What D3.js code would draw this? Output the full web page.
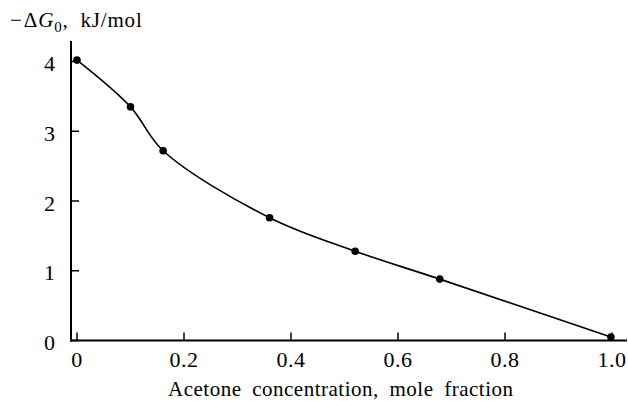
<!DOCTYPE html>
<html>
<head>
<meta charset="utf-8">
<script src="https://cdn.jsdelivr.net/npm/d3@7"></script>
<style>
  html, body { margin: 0; padding: 0; background: #fff; }
  svg { display: block; }
  text { font-family: 'Liberation Serif', 'Times New Roman', serif; fill: #000; }
</style>
</head>
<body>
<svg id="chart" width="628" height="401"></svg>
<script>
/* data */
const conc   = [0, 0.10, 0.161, 0.36, 0.52, 0.678, 0.998];
const deltaG = [4.02, 3.35, 2.72, 1.76, 1.28, 0.88, 0.05];
const xTicks = [0, 0.2, 0.4, 0.6, 0.8, 1.0];
const yTicks = [0, 1, 2, 3, 4];

const svg = d3.select('#chart');

/* ── Scales ── */
const x = d3.scaleLinear().domain([0, 1]).range([77, 612]);
const y = d3.scaleLinear().domain([0, 4]).range([340.5, 61.5]);

const axisLeft = 71, axisBottom = 340.5;

/* ── Axis lines ── */
svg.append('line')
  .attr('x1', axisLeft).attr('x2', axisLeft)
  .attr('y1', 41).attr('y2', axisBottom + 1)
  .attr('stroke', '#000').attr('stroke-width', 2);
svg.append('line')
  .attr('x1', axisLeft - 1).attr('x2', 627)
  .attr('y1', axisBottom).attr('y2', axisBottom)
  .attr('stroke', '#000').attr('stroke-width', 2);

/* ── Ticks ── */
const gx = svg.append('g');
gx.selectAll('line').data(xTicks).join('line')
  .attr('x1', d => x(d)).attr('x2', d => x(d))
  .attr('y1', axisBottom).attr('y2', axisBottom - 8)
  .attr('stroke', '#000').attr('stroke-width', 1.5);
gx.selectAll('text').data(xTicks).join('text')
  .attr('x', d => x(d)).attr('y', 367)
  .attr('text-anchor', 'middle')
  .attr('font-size', '22px')
  .attr('letter-spacing', '0.5px')
  .text(d => d === 0 ? '0' : d3.format('.1f')(d));

const gy = svg.append('g');
gy.selectAll('line').data(yTicks).join('line')
  .attr('x1', axisLeft).attr('x2', axisLeft + 8)
  .attr('y1', d => y(d)).attr('y2', d => y(d))
  .attr('stroke', '#000').attr('stroke-width', 1.5);
gy.selectAll('text').data(yTicks).join('text')
  .attr('x', 55).attr('y', d => y(d) + 2)
  .attr('dy', '0.35em')
  .attr('text-anchor', 'end')
  .attr('font-size', '22px')
  .text(d => d);

/* ── Axis titles ── */
svg.append('text')
  .attr('x', 168).attr('y', 396)
  .attr('font-size', '21px')
  .attr('letter-spacing', '0.5px')
  .attr('word-spacing', '5px')
  .text('Acetone concentration, mole fraction');

const yt = svg.append('text')
  .attr('x', 10).attr('y', 27)
  .attr('font-size', '21px')
  .attr('letter-spacing', '0.8px');
yt.append('tspan').attr('letter-spacing', '2px').text('\u2212');
yt.append('tspan').text('\u0394');
yt.append('tspan').attr('font-style', 'italic').text('G');
yt.append('tspan').attr('dy', 5).attr('font-size', '15px').text('0');
yt.append('tspan').attr('dy', -5).attr('word-spacing', '6px').text(', kJ/mol');

/* ── Curve ── */
const pts = conc.map((c, i) => [c, deltaG[i]]);
svg.append('path')
  .datum(pts)
  .attr('d', d3.line().x(d => x(d[0])).y(d => y(d[1])).curve(d3.curveCatmullRom.alpha(0.5)))
  .attr('fill', 'none')
  .attr('stroke', '#000')
  .attr('stroke-width', 1.6);

svg.append('g').selectAll('circle').data(pts).join('circle')
  .attr('cx', d => x(d[0])).attr('cy', d => y(d[1]))
  .attr('r', 3.8)
  .attr('fill', '#000');
</script>
</body>
</html>
